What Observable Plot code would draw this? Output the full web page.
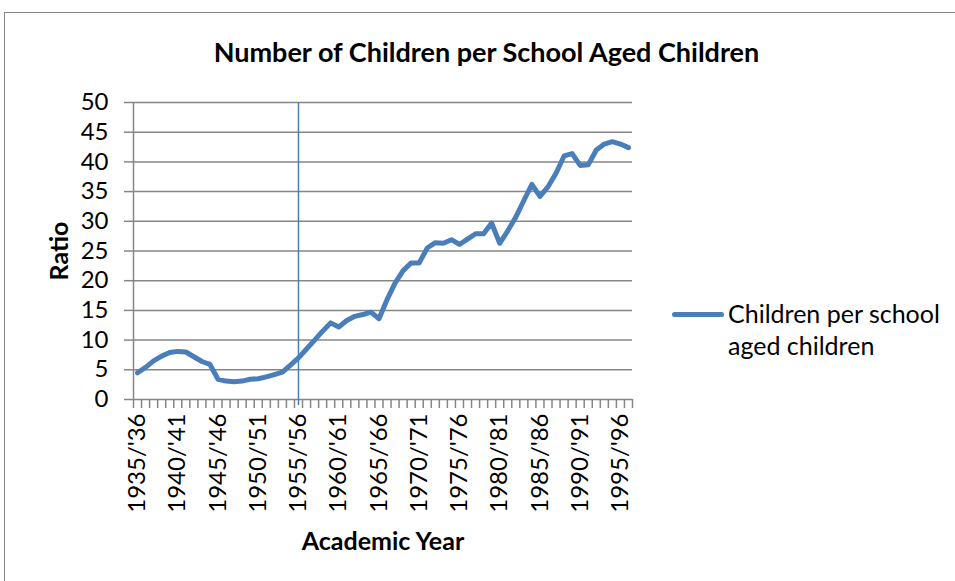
<!DOCTYPE html>
<html>
<head>
<meta charset="utf-8">
<script src="https://cdn.jsdelivr.net/npm/d3@7"></script>
<script src="https://cdn.jsdelivr.net/npm/@observablehq/plot@0.6"></script>
<style>
  html, body { margin: 0; padding: 0; background: #fff; }
  body { width: 955px; height: 581px; overflow: hidden; position: relative; font-family: Lato, "Open Sans", sans-serif; }
  #frame { position: absolute; left: 4px; top: 12px; width: 1000px; height: 640px; border: 1px solid #868686; box-sizing: border-box; }
  #chart { position: absolute; left: 0; top: 0; }
  #title { position: absolute; left: 0; width: 973px; top: 34px; text-align: center; font-weight: bold; font-size: 27px; line-height: 36px; color: #000; }
  #legend { position: absolute; left: 672px; top: 297px; font-size: 25px; line-height: 32px; color: #000; }
  #legend .swatch { position: absolute; left: 0; top: 15px; width: 52px; height: 5px; border-radius: 3px; background: #4a7ebb; }
  #legend .label { position: absolute; left: 56px; top: 0; white-space: nowrap; }
</style>
</head>
<body>
<div id="frame"></div>
<div id="chart"></div>
<div id="title">Number of Children per School Aged Children</div>
<div id="legend"><div class="swatch"></div><div class="label">Children per school<br>aged children</div></div>
<script>
// Academic years, 1935/'36 through 1996/'97
const years = d3.range(1935, 1997);
const categories = years.map(y => `${y}/'${String((y + 1) % 100).padStart(2, "0")}`);

// Children per school aged children, one value per academic year
const ratio = [
  4.5, 5.4, 6.5, 7.3, 7.9, 8.1, 8.0, 7.2, 6.4, 5.9,
  3.4, 3.1, 3.0, 3.1, 3.4, 3.5, 3.8, 4.2, 4.6, 5.8,
  7.0, 8.5, 10.0, 11.5, 12.9, 12.2, 13.3, 14.0, 14.3, 14.7,
  13.6, 16.8, 19.6, 21.7, 23.0, 23.0, 25.5, 26.4, 26.3, 26.9,
  26.1, 27.0, 27.9, 27.9, 29.7, 26.3, 28.4, 30.7, 33.5, 36.2,
  34.2, 35.8, 38.1, 41.0, 41.4, 39.4, 39.5, 42.0, 43.0, 43.4,
  43.0, 42.4
];

const yTicks = d3.range(0, 51, 5);
const labelEvery = 5;
const markedYear = "1955/'56";

const data = ratio.map((v, i) => ({i, category: categories[i], value: v}));
const gridColor = "#868686";
const lineColor = "#4a7ebb";

const chart = Plot.plot({
  width: 955,
  height: 581,
  marginLeft: 133,
  marginRight: 323,
  marginTop: 102,
  marginBottom: 182,
  style: {fontFamily: "Lato, 'Open Sans', sans-serif", color: "#000", background: "transparent", overflow: "visible"},
  x: {domain: [-0.5, categories.length - 0.5]},
  y: {domain: [0, 50]},
  marks: [
    // horizontal gridlines
    Plot.ruleY(yTicks.filter(t => t > 0), {stroke: gridColor, strokeWidth: 1.5}),
    // y axis with outward ticks
    Plot.axisY({ticks: yTicks, tickSize: 9, tickPadding: 16, fontSize: 24, stroke: gridColor, strokeWidth: 1.5, label: null}),
    Plot.ruleX([-0.5], {stroke: gridColor, strokeWidth: 1.5}),
    // category axis: tick marks between categories, labels every fifth year
    Plot.axisX({ticks: d3.range(-0.5, categories.length, 1), tickSize: 9, text: null, stroke: gridColor, strokeWidth: 1.5, label: null}),
    Plot.axisX({ticks: d3.range(0, categories.length, labelEvery), tickFormat: i => categories[i], tickSize: 0, tickPadding: 14, tickRotate: -90, fontSize: 24, label: null}),
    Plot.ruleY([0], {stroke: gridColor, strokeWidth: 1.5}),
    // marker for 1955/'56
    Plot.ruleX([categories.indexOf(markedYear)], {y1: 50, y2: 0, stroke: lineColor, strokeWidth: 1.5, insetBottom: -6}),
    // series
    Plot.line(data, {x: "i", y: "value", stroke: lineColor, strokeWidth: 5, strokeLinejoin: "round", strokeLinecap: "round"}),
    // axis titles
    Plot.text(["Academic Year"], {frameAnchor: "bottom", textAnchor: "middle", lineAnchor: "middle", dy: 142, fontSize: 25, fontWeight: "bold"}),
    Plot.text(["Ratio"], {frameAnchor: "left", textAnchor: "middle", lineAnchor: "middle", dx: -74, rotate: -90, fontSize: 25, fontWeight: "bold"})
  ]
});
document.getElementById("chart").append(chart);
</script>
</body>
</html>
